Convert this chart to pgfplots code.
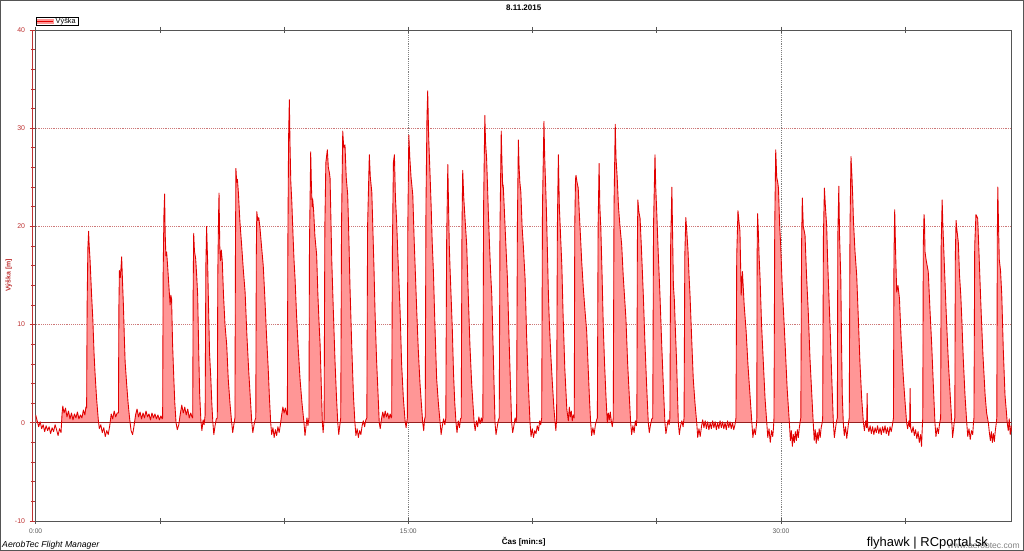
\documentclass[border=0pt]{standalone}
\usepackage{fontspec}
\setmainfont{Liberation Sans}
\usepackage{pgfplots}
\usepackage{pgfplotstable}
\pgfplotsset{compat=1.18}
\definecolor{curvered}{RGB}{225,0,0}
\definecolor{fillpink}{RGB}{255,150,150}
\definecolor{zerored}{RGB}{150,30,30}
\definecolor{gridred}{RGB}{205,120,120}
\definecolor{framegray}{RGB}{85,85,85}
\definecolor{axisred}{RGB}{190,50,50}
\definecolor{ticktext}{RGB}{90,90,90}
\pgfplotstableread[row sep=\\]{
t h\\
0.00 0.8\\ 0.06 0.2\\ 0.12 -0.4\\ 0.18 0.1\\ 0.24 -0.6\\ 0.30 -0.2\\ 0.36 -0.9\\ 0.42 -0.3\\ 0.48 -0.8\\ 0.54 -0.4\\
0.60 -1.1\\ 0.66 -0.5\\ 0.72 -0.9\\ 0.78 -0.2\\ 0.84 -0.7\\ 0.90 -1.3\\ 0.96 -0.6\\ 1.02 -1.0\\ 1.06 0.9\\ 1.09 1.7\\
1.14 1.0\\ 1.20 1.5\\ 1.26 0.6\\ 1.32 1.2\\ 1.38 0.4\\ 1.44 1.0\\ 1.50 0.3\\ 1.56 0.9\\ 1.62 0.5\\ 1.68 1.1\\
1.74 0.4\\ 1.80 0.8\\ 1.86 0.5\\ 1.92 1.3\\ 1.98 0.8\\ 2.02 1.6\\
2.05 1.5\\ 2.07 12\\ 2.10 17.8\\ 2.13 19.5\\ 2.15 18.2\\ 2.19 16.5\\ 2.25 13.0\\ 2.30 10.5\\ 2.35 7.0\\ 2.39 5.0\\ 2.45 2.5\\ 2.52 0.3\\
2.56 -0.6\\ 2.62 -0.2\\ 2.68 -1.0\\ 2.74 -0.5\\ 2.80 -1.4\\ 2.86 -0.8\\ 2.92 -1.2\\ 2.98 -0.3\\ 3.04 0.9\\ 3.10 0.4\\ 3.16 1.2\\ 3.22 0.6\\ 3.28 1.0\\
3.33 1.0\\ 3.35 12.0\\ 3.37 15.5\\ 3.41 14.8\\ 3.46 16.9\\ 3.50 14.0\\ 3.53 12.0\\ 3.57 8.5\\ 3.60 6.2\\ 3.66 4.0\\ 3.72 2.0\\ 3.79 0.2\\
3.84 -0.8\\ 3.90 -1.2\\ 3.96 -0.3\\ 4.02 0.8\\ 4.08 1.4\\ 4.14 0.6\\ 4.20 1.1\\ 4.26 0.4\\ 4.32 1.0\\ 4.38 0.5\\ 4.44 1.2\\
4.50 0.6\\ 4.56 0.9\\ 4.62 0.3\\ 4.68 1.0\\ 4.74 0.5\\ 4.80 0.9\\ 4.86 0.4\\ 4.92 0.8\\ 4.98 0.3\\ 5.04 0.7\\ 5.09 0.4\\
5.11 0.5\\ 5.13 15\\ 5.16 21\\ 5.19 23.3\\ 5.21 19.5\\ 5.24 17.0\\ 5.27 17.4\\ 5.31 16.0\\ 5.36 14.0\\ 5.41 12.0\\ 5.44 13.0\\ 5.47 12.6\\ 5.51 8.0\\ 5.56 4.5\\ 5.60 2.0\\ 5.65 0.0\\
5.70 -0.7\\ 5.76 -0.2\\ 5.82 0.9\\ 5.88 1.8\\ 5.94 1.0\\ 6.00 1.6\\ 6.06 0.8\\ 6.12 1.4\\ 6.18 0.5\\ 6.24 1.0\\ 6.29 0.6\\
6.32 0.5\\ 6.34 14\\ 6.36 19.3\\ 6.39 17.5\\ 6.44 16.7\\ 6.48 15.0\\ 6.52 13.0\\ 6.56 7.5\\ 6.60 3.0\\ 6.65 0.2\\
6.69 -0.8\\ 6.74 0.3\\ 6.78 -0.2\\
6.82 0.8\\ 6.85 16\\ 6.88 20.0\\ 6.92 16.5\\ 6.96 11.5\\ 7.00 7.0\\ 7.05 4.5\\ 7.09 2.0\\ 7.13 0.1\\
7.17 -1.2\\ 7.22 -0.3\\ 7.27 0.4\\
7.31 0.5\\ 7.33 15\\ 7.36 21\\ 7.38 23.4\\ 7.41 18.0\\ 7.44 16.5\\ 7.47 17.6\\ 7.51 16.5\\ 7.56 13.0\\ 7.62 10.0\\ 7.69 7.9\\ 7.75 4.5\\ 7.82 2.0\\ 7.89 0.0\\
7.93 -1.0\\ 7.97 -0.3\\
8.02 0.5\\ 8.04 17\\ 8.06 25.9\\ 8.09 24.5\\ 8.12 24.8\\ 8.16 23.4\\ 8.22 20.5\\ 8.29 18.1\\ 8.36 15.5\\ 8.43 13.3\\ 8.50 9.0\\ 8.57 5.5\\ 8.64 2.5\\ 8.70 0.0\\
8.74 -1.0\\ 8.79 -0.2\\ 8.83 0.3\\
8.86 0.5\\ 8.88 17\\ 8.90 21.5\\ 8.94 20.6\\ 8.98 20.9\\ 9.03 19.8\\ 9.09 18.0\\ 9.16 16.0\\ 9.22 13.0\\ 9.29 9.0\\ 9.36 5.5\\ 9.41 2.5\\ 9.46 0.0\\
9.50 -1.2\\ 9.55 -0.5\\ 9.60 -1.5\\ 9.65 -0.7\\ 9.70 -1.3\\ 9.75 -0.4\\ 9.80 -1.0\\ 9.85 -0.2\\ 9.90 0.8\\ 9.95 1.6\\ 10.00 1.0\\ 10.05 1.5\\ 10.10 0.9\\
10.13 0.8\\ 10.15 18\\ 10.18 29\\ 10.21 32.9\\ 10.24 28.0\\ 10.27 24.5\\ 10.31 22.5\\ 10.36 19.0\\ 10.40 16.5\\ 10.44 14.7\\ 10.50 11.0\\ 10.57 7.5\\ 10.64 4.5\\ 10.72 2.0\\ 10.80 0.0\\
10.84 -1.3\\ 10.88 -0.4\\ 10.92 0.5\\ 10.96 -0.3\\
11.00 0.5\\ 11.02 18\\ 11.07 27.6\\ 11.10 24.0\\ 11.13 22.0\\ 11.15 22.8\\ 11.19 21.5\\ 11.24 19.0\\ 11.31 17.1\\ 11.36 13.0\\ 11.41 10.0\\ 11.45 7.9\\ 11.50 3.5\\ 11.54 0.0\\
11.57 -1.0\\
11.61 0.4\\ 11.64 20\\ 11.68 26.5\\ 11.74 27.8\\ 11.78 26.0\\ 11.82 25.5\\ 11.85 24.9\\ 11.89 20.0\\ 11.92 16.4\\ 11.98 11.5\\ 12.05 6.2\\ 12.11 2.5\\ 12.16 0.0\\
12.20 -1.2\\ 12.24 -0.3\\
12.28 0.5\\ 12.31 20\\ 12.36 29.7\\ 12.40 28.0\\ 12.45 28.3\\ 12.50 25.0\\ 12.56 23.2\\ 12.61 18.5\\ 12.65 14.0\\ 12.72 8.0\\ 12.79 2.8\\ 12.85 0.0\\
12.89 -1.3\\ 12.94 -0.6\\ 12.99 -1.5\\ 13.04 -0.8\\ 13.09 -1.2\\ 13.14 -0.3\\ 13.19 0.2\\ 13.24 -0.4\\ 13.29 0.3\\
13.33 0.5\\ 13.36 20\\ 13.43 27.3\\ 13.47 25.0\\ 13.53 23.5\\ 13.57 20.0\\ 13.62 15.5\\ 13.66 11.3\\ 13.72 6.5\\ 13.78 3.0\\ 13.83 0.0\\
13.87 -0.6\\ 13.92 0.4\\ 13.97 1.1\\ 14.02 0.5\\ 14.07 1.2\\ 14.12 0.6\\ 14.17 1.0\\ 14.22 0.4\\ 14.27 0.9\\ 14.31 0.5\\
14.33 0.6\\ 14.36 18\\ 14.40 26.5\\ 14.44 27.3\\ 14.48 23.0\\ 14.53 20.5\\ 14.58 17.0\\ 14.62 14.5\\ 14.67 11.3\\ 14.73 6.0\\ 14.80 2.5\\ 14.87 0.2\\
14.91 -0.5\\
14.96 0.5\\ 14.98 20\\ 15.02 29.3\\ 15.06 27.0\\ 15.11 25.0\\ 15.18 23.2\\ 15.23 19.0\\ 15.28 15.5\\ 15.34 11.3\\ 15.40 7.5\\ 15.47 4.0\\ 15.53 1.8\\ 15.58 0.0\\
15.62 -0.8\\ 15.65 0.3\\
15.68 0.6\\ 15.71 22\\ 15.75 31\\ 15.78 33.8\\ 15.82 29.0\\ 15.87 25.6\\ 15.92 22.0\\ 15.96 18.5\\ 16.01 15.4\\ 16.07 10.0\\ 16.14 4.5\\ 16.21 2.0\\ 16.28 0.0\\
16.32 -1.2\\ 16.37 -0.3\\ 16.42 0.4\\ 16.47 -0.2\\
16.51 0.5\\ 16.54 18\\ 16.59 26.3\\ 16.62 22.0\\ 16.65 18.0\\ 16.68 15.7\\ 16.72 13.0\\ 16.77 9.6\\ 16.82 5.0\\ 16.87 2.0\\ 16.92 0.0\\
16.96 -1.0\\ 17.01 0.2\\ 17.06 -0.5\\ 17.10 0.4\\
17.13 0.5\\ 17.16 20\\ 17.19 25.7\\ 17.23 23.0\\ 17.29 20.5\\ 17.35 18.1\\ 17.40 14.0\\ 17.44 11.0\\ 17.48 7.9\\ 17.55 4.0\\ 17.60 2.0\\ 17.65 0.0\\
17.69 -0.8\\ 17.74 0.2\\ 17.79 -0.4\\ 17.84 0.6\\ 17.89 -0.1\\ 17.94 0.5\\ 17.97 0.1\\
18.00 0.5\\ 18.03 22\\ 18.08 31.3\\ 18.11 28.5\\ 18.15 27.0\\ 18.19 24.0\\ 18.22 21.5\\ 18.27 18.0\\ 18.31 15.5\\ 18.36 13.0\\ 18.42 7.0\\ 18.49 0.0\\
18.53 -1.2\\ 18.58 -0.4\\ 18.62 0.2\\
18.66 0.5\\ 18.69 20\\ 18.74 29.7\\ 18.77 26.5\\ 18.80 24.0\\ 18.82 24.2\\ 18.86 22.0\\ 18.92 18.5\\ 18.99 14.7\\ 19.05 9.0\\ 19.11 4.0\\ 19.16 0.0\\
19.20 -1.0\\ 19.25 -0.3\\ 19.30 0.5\\ 19.34 0.1\\
19.36 0.6\\ 19.39 20\\ 19.43 28.8\\ 19.46 26.0\\ 19.49 24.5\\ 19.53 23.5\\ 19.58 20.0\\ 19.63 18.0\\ 19.70 14.7\\ 19.76 9.0\\ 19.83 4.0\\ 19.90 0.0\\
19.94 -1.4\\ 19.99 -0.6\\ 20.04 -1.5\\ 20.09 -0.8\\ 20.14 -1.1\\ 20.19 -0.3\\ 20.24 -0.8\\ 20.29 0.2\\ 20.33 -0.2\\
20.37 0.5\\ 20.40 22\\ 20.46 30.7\\ 20.49 27.0\\ 20.53 24.0\\ 20.56 21.5\\ 20.60 17.4\\ 20.64 13.0\\ 20.68 10.0\\ 20.73 7.2\\ 20.80 4.0\\ 20.86 1.5\\ 20.91 0.0\\
20.94 -0.8\\
20.97 0.4\\ 21.00 20\\ 21.04 27.3\\ 21.08 22.0\\ 21.13 19.0\\ 21.18 16.0\\ 21.23 11.0\\ 21.30 5.5\\ 21.38 1.4\\ 21.44 0.2\\
21.48 1.6\\ 21.52 0.6\\ 21.56 1.2\\ 21.60 0.2\\ 21.64 0.8\\
21.68 0.5\\ 21.70 20\\ 21.73 24.8\\ 21.75 25.2\\ 21.79 24.5\\ 21.84 23.9\\ 21.88 21.5\\ 21.93 19.0\\ 21.98 16.4\\ 22.05 13.5\\ 22.11 11.5\\ 22.18 9.3\\ 22.25 5.0\\ 22.30 2.0\\ 22.34 0.0\\
22.38 -1.3\\ 22.43 -0.5\\ 22.48 -1.2\\ 22.53 -0.2\\ 22.58 0.3\\
22.61 0.5\\ 22.64 20\\ 22.68 26.4\\ 22.71 22.0\\ 22.75 19.8\\ 22.80 15.0\\ 22.85 9.6\\ 22.90 6.0\\ 22.96 2.5\\ 23.01 0.0\\
23.05 1.0\\ 23.09 0.3\\ 23.13 1.1\\ 23.17 0.2\\ 23.21 -0.4\\
23.25 0.5\\ 23.28 22\\ 23.33 30.4\\ 23.36 27.0\\ 23.41 24.9\\ 23.46 22.0\\ 23.52 20.0\\ 23.59 18.1\\ 23.65 15.0\\ 23.70 13.0\\ 23.76 10.6\\ 23.83 6.0\\ 23.90 2.5\\ 23.95 0.0\\
23.99 -1.2\\ 24.04 -0.3\\ 24.09 -1.0\\ 24.14 0.2\\ 24.18 -0.3\\
24.20 0.5\\ 24.22 18\\ 24.24 22.7\\ 24.28 21.5\\ 24.33 20.8\\ 24.38 18.0\\ 24.42 15.5\\ 24.46 13.0\\ 24.52 8.5\\ 24.59 4.0\\ 24.66 0.0\\
24.70 -1.0\\ 24.75 -0.2\\ 24.80 0.4\\
24.84 0.5\\ 24.87 20\\ 24.93 27.3\\ 24.96 24.0\\ 25.00 21.5\\ 25.05 18.0\\ 25.09 15.5\\ 25.13 13.0\\ 25.20 8.0\\ 25.27 3.5\\ 25.33 0.0\\
25.37 -1.1\\ 25.42 -0.3\\ 25.46 0.3\\ 25.50 -0.2\\
25.53 0.5\\ 25.56 18\\ 25.61 24.0\\ 25.64 19.0\\ 25.67 14.0\\ 25.71 12.5\\ 25.75 9.5\\ 25.80 6.2\\ 25.84 2.5\\ 25.87 0.0\\
25.91 -1.2\\ 25.96 -0.3\\ 26.01 0.2\\ 26.06 -0.4\\
26.10 0.5\\ 26.13 17\\ 26.17 20.9\\ 26.21 19.5\\ 26.26 17.5\\ 26.30 15.0\\ 26.34 13.0\\ 26.40 9.0\\ 26.47 4.5\\ 26.54 2.0\\ 26.61 0.0\\
26.65 -1.5\\ 26.70 -0.6\\ 26.75 -1.4\\ 26.80 -0.4\\ 26.85 0.3\\ 26.90 -0.5\\ 26.95 0.2\\ 27.00 -0.6\\ 27.05 0.1\\ 27.10 -0.7\\
27.15 0.0\\ 27.20 -0.6\\ 27.25 0.2\\ 27.30 -0.5\\ 27.35 0.1\\ 27.40 -0.7\\ 27.45 0.0\\ 27.50 -0.6\\ 27.55 0.2\\ 27.60 -0.5\\
27.65 0.1\\ 27.70 -0.6\\ 27.75 0.0\\ 27.80 -0.7\\ 27.85 0.2\\ 27.90 -0.5\\ 27.95 0.1\\ 28.00 -0.6\\ 28.05 0.0\\ 28.10 -0.7\\ 28.15 -0.2\\
28.19 0.5\\ 28.22 17\\ 28.27 21.6\\ 28.31 20.5\\ 28.35 19.5\\ 28.40 13.0\\ 28.45 15.4\\ 28.52 12.0\\ 28.60 9.3\\ 28.67 6.0\\ 28.75 3.0\\ 28.83 0.0\\
28.87 -1.5\\ 28.92 -0.6\\ 28.97 -1.2\\ 29.01 -0.3\\
29.03 0.5\\ 29.04 17\\ 29.06 21.3\\ 29.09 19.5\\ 29.12 17.0\\ 29.16 14.7\\ 29.22 10.0\\ 29.29 6.2\\ 29.36 2.5\\ 29.43 0.0\\
29.47 -1.5\\ 29.52 -0.6\\ 29.57 -2.0\\ 29.62 -0.8\\ 29.67 -1.4\\ 29.70 -0.5\\
29.72 0.5\\ 29.75 20\\ 29.79 27.8\\ 29.83 25.0\\ 29.87 24.5\\ 29.90 23.9\\ 29.95 20.0\\ 29.99 18.1\\ 30.05 14.0\\ 30.11 11.0\\ 30.17 7.9\\ 30.25 3.5\\ 30.34 0.0\\
30.38 -1.8\\ 30.42 -0.8\\ 30.46 -2.4\\ 30.50 -1.2\\ 30.54 -2.0\\ 30.58 -0.9\\ 30.62 -1.8\\ 30.66 -0.7\\ 30.70 -1.5\\ 30.74 -0.5\\ 30.78 0.2\\
30.80 0.5\\ 30.83 18\\ 30.86 22.9\\ 30.90 20.0\\ 30.94 19.5\\ 30.97 19.1\\ 31.03 15.0\\ 31.10 11.3\\ 31.17 6.5\\ 31.24 3.0\\ 31.30 0.0\\
31.34 -1.8\\ 31.38 -0.7\\ 31.42 -2.1\\ 31.46 -1.0\\ 31.50 -1.8\\ 31.54 -0.6\\ 31.58 -1.5\\ 31.62 -0.5\\ 31.66 0.0\\
31.68 0.5\\ 31.71 19\\ 31.75 23.9\\ 31.79 22.0\\ 31.84 20.1\\ 31.88 16.5\\ 31.93 13.0\\ 31.98 9.6\\ 32.04 5.0\\ 32.11 0.0\\
32.15 -1.5\\ 32.20 -0.5\\ 32.24 0.2\\
32.27 0.5\\ 32.29 19\\ 32.33 24.1\\ 32.36 19.0\\ 32.41 14.7\\ 32.44 8.0\\ 32.47 2.8\\ 32.51 0.0\\
32.55 -1.3\\ 32.60 -0.4\\ 32.65 -1.6\\ 32.70 -0.5\\ 32.73 0.2\\
32.75 0.5\\ 32.78 20\\ 32.82 27.1\\ 32.86 25.0\\ 32.89 23.0\\ 32.92 20.5\\ 32.98 17.5\\ 33.05 15.0\\ 33.11 11.0\\ 33.18 6.2\\ 33.25 2.5\\ 33.32 0.0\\
33.36 -0.8\\ 33.41 0.2\\ 33.45 -0.5\\ 33.47 3.0\\ 33.49 -0.3\\ 33.54 -0.9\\ 33.59 -0.3\\ 33.64 -1.1\\ 33.69 -0.4\\ 33.74 -1.2\\
33.79 -0.5\\ 33.84 -1.0\\ 33.89 -0.3\\ 33.94 -1.1\\ 33.99 -0.5\\ 34.04 -1.2\\ 34.09 -0.4\\ 34.14 -1.0\\ 34.19 -0.3\\ 34.24 -1.1\\
34.29 -0.5\\ 34.34 -1.3\\ 34.39 -0.4\\ 34.44 -0.9\\ 34.49 -0.2\\
34.53 0.5\\ 34.55 17\\ 34.58 21.7\\ 34.62 17.0\\ 34.66 13.3\\ 34.71 14.0\\ 34.77 12.7\\ 34.84 8.5\\ 34.93 4.5\\ 35.00 2.0\\ 35.06 0.0\\
35.10 -0.6\\ 35.15 0.2\\ 35.18 -0.4\\ 35.20 3.5\\ 35.22 -0.5\\ 35.27 -1.0\\ 35.32 -0.4\\ 35.37 -1.3\\ 35.42 -0.7\\ 35.47 -1.6\\
35.52 -0.9\\ 35.57 -2.0\\ 35.62 -1.2\\ 35.66 -2.4\\ 35.69 -0.5\\
35.71 0.5\\ 35.73 18\\ 35.76 21.2\\ 35.78 20.5\\ 35.80 17.4\\ 35.85 16.5\\ 35.93 15.4\\ 36.00 11.5\\ 36.07 7.9\\ 36.14 3.5\\ 36.20 0.0\\
36.24 -1.4\\ 36.29 -0.5\\ 36.34 -1.1\\ 36.38 -0.2\\
36.43 0.5\\ 36.45 18\\ 36.49 22.7\\ 36.52 20.0\\ 36.55 18.0\\ 36.58 16.0\\ 36.64 12.0\\ 36.69 9.0\\ 36.74 6.2\\ 36.81 3.0\\ 36.88 0.0\\
36.91 -1.5\\ 36.95 -0.6\\ 36.98 0.2\\
37.00 0.5\\ 37.02 17\\ 37.05 20.6\\ 37.09 19.5\\ 37.14 18.4\\ 37.19 15.0\\ 37.24 13.0\\ 37.28 10.6\\ 37.34 6.5\\ 37.41 2.8\\ 37.48 0.0\\
37.52 -1.4\\ 37.57 -0.6\\ 37.62 -1.7\\ 37.67 -0.8\\ 37.72 -1.2\\ 37.75 0.0\\
37.77 0.5\\ 37.80 18\\ 37.85 21.2\\ 37.89 21.0\\ 37.92 20.8\\ 37.97 17.5\\ 38.02 14.0\\ 38.06 11.3\\ 38.13 7.0\\ 38.22 2.8\\ 38.28 1.0\\ 38.35 0.0\\
38.39 -1.0\\ 38.43 -1.8\\ 38.47 -0.9\\ 38.51 -2.0\\ 38.55 -1.1\\ 38.59 -1.9\\ 38.63 -0.8\\ 38.67 0.0\\
38.69 0.5\\ 38.71 19\\ 38.73 24.0\\ 38.76 20.0\\ 38.79 16.6\\ 38.84 15.5\\ 38.89 13.0\\ 38.95 7.5\\ 39.02 2.8\\ 39.08 1.0\\ 39.11 0.0\\
39.15 -0.8\\ 39.19 0.4\\ 39.23 -1.2\\ 39.27 -0.3\\ 39.29 -0.9\\
}\altdata

\begin{document}
\begin{tikzpicture}
\begin{axis}[
  scale only axis,
  width=732pt, height=368.25pt,
  xmin=0, xmax=39.29,
  ymin=-10, ymax=40,
  axis line style={framegray, line width=0.6pt},
  xtick={0,5,10,15,20,25,30,35},
  xticklabels={0:00,,,15:00,,,30:00,},
  xtick pos=both,
  xtick align=center,
  ytick={-10,0,10,20,30,40},
  ytick pos=left,
  ytick align=outside,
  minor y tick num=4,
  major tick length=4.5pt,
  minor tick length=3.5pt,
  x tick style={framegray, line width=0.5pt},
  y tick style={axisred, line width=0.5pt},
  /pgf/number format/assume math mode=true,
  x tick label style={font=\fontsize{5}{6}\selectfont, text=ticktext},
  y tick label style={font=\fontsize{5.2}{6}\selectfont, text=axisred},
  ymajorgrids=true,
  y grid style={densely dotted, gridred, line width=0.5pt},
  extra x ticks={15,30},
  extra x tick labels={},
  extra x tick style={grid=major, major grid style={densely dotted, gray, line width=0.5pt}},
  title={8.11.2015},
  title style={font=\fontsize{6}{7}\selectfont\bfseries, at={(axis description cs:0.5,1)}, anchor=center, yshift=10.5pt},
  xlabel={Čas [min:s]},
  xlabel style={font=\fontsize{6}{7}\selectfont\bfseries, at={(axis description cs:0.5,-0.0428)}, anchor=center},
  ylabel={Výška [m]},
  ylabel style={font=\fontsize{5.2}{6}\selectfont\bfseries, text=axisred, at={(axis description cs:-0.0277,0.5)}, anchor=center},
  legend style={at={(axis description cs:0,1)}, anchor=south west, yshift=3pt, draw=black, line width=0.4pt,
    inner xsep=0.5pt, inner ysep=0pt, font=\fontsize{5.5}{5.5}\selectfont, legend cell align=left,
    nodes={inner ysep=0.4pt, inner xsep=1.2pt}},
  clip=true,
]
\addplot[fill=fillpink, draw=none, forget plot, y filter/.expression={max(y,0)}] table[x=t, y=h] {\altdata} \closedcycle;
\addplot[zerored, line width=0.5pt, forget plot] coordinates {(0,0) (39.29,0)};
\addplot[curvered, line width=0.65pt, line join=round, forget plot] table[x=t, y=h] {\altdata};
\addlegendimage{legend image code/.code={
  \fill[fillpink] (0pt,-1.3pt) rectangle (12pt,1.3pt);
  \draw[curvered, line width=1.1pt] (0pt,0pt) -- (12pt,0pt);}}
\addlegendentry{Výška}
\end{axis}
\draw[axisred, line width=0.6pt] ([xshift=-2.5pt]current axis.south west) -- ([xshift=-2.5pt]current axis.north west);
\node[anchor=west, font=\fontsize{6.5}{7}\selectfont\itshape, inner sep=0pt] at ([xshift=-25.3pt, yshift=-18pt]current axis.south west) {AerobTec Flight Manager};
\node[anchor=east, font=\fontsize{6.4}{7}\selectfont, text=gray, inner sep=0pt] at ([xshift=6.2pt, yshift=-18.6pt]current axis.south east) {www.aerobtec.com};
\node[anchor=east, font=\fontsize{9.7}{10}\selectfont, inner sep=0pt] at ([xshift=-17.6pt, yshift=-16.3pt]current axis.south east) {flyhawk | RCportal.sk};
\pgfresetboundingbox
\path[use as bounding box] ([xshift=-26.78pt, yshift=-22.5pt]current axis.south west) rectangle ([xshift=9.22pt, yshift=22.5pt]current axis.north east);
\draw[framegray, line width=0.75pt] ([xshift=-26.4pt, yshift=-22.1pt]current axis.south west) rectangle ([xshift=8.85pt, yshift=22.1pt]current axis.north east);
\end{tikzpicture}
\end{document}
